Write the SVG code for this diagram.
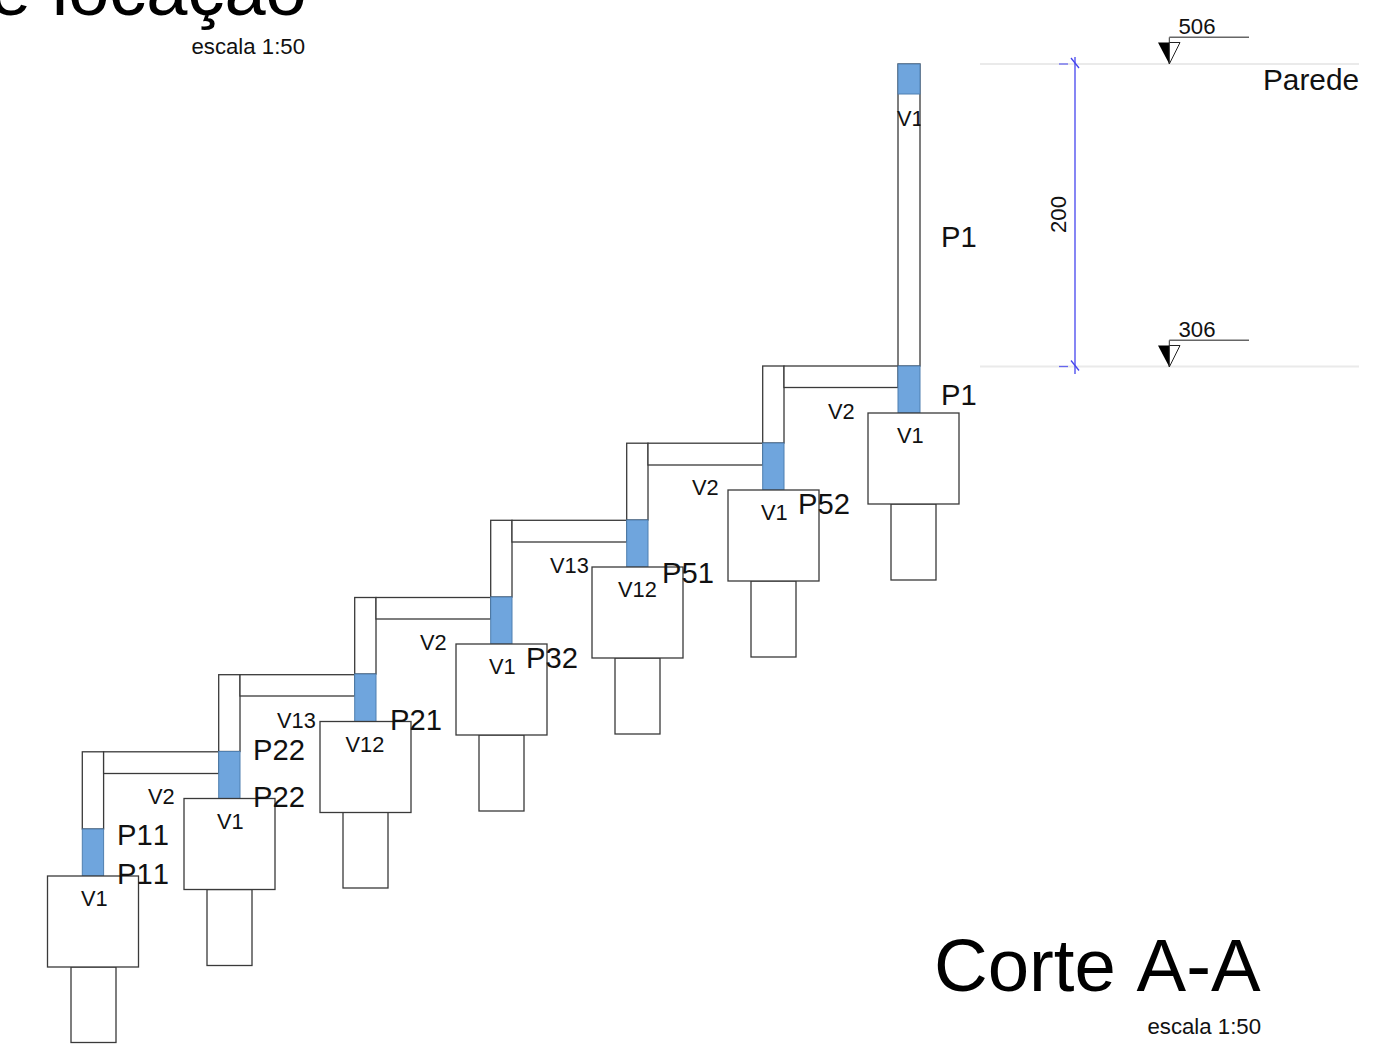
<svg xmlns="http://www.w3.org/2000/svg" width="1400" height="1058" viewBox="0 0 1400 1058">
<style>
text{font-family:"Liberation Sans",Arial,sans-serif;fill:#111;font-kerning:none}
.s{fill:#fff;stroke:#3a3a3a;stroke-width:1.3}
.c{fill:#6fa5dd;stroke:#4f7fb0;stroke-width:1}
.p{font-size:29.200px}
.v{font-size:21.800px}
.e{font-size:22.200px}
.t{font-size:74px;fill:#000}
.g{stroke:#eaeaea;stroke-width:2;fill:none}
.b{stroke:#4444ee;stroke-width:1.300;fill:none}
.lv{stroke:#666;stroke-width:1.500;fill:none}
</style>
<defs>
<clipPath id="colclip"><rect x="892" y="100" width="28.500" height="40"/></clipPath>
<g id="level">
<path d="M1169.300 64V37.300" fill="none" stroke="#333" stroke-width="1"/>
<path d="M1169.300 37.300H1249" class="lv"/>
<path d="M1158 42.500H1169.300V64Z" fill="#000"/>
<path d="M1169.300 42.500H1180L1169.300 64Z" fill="#fff" stroke="#222" stroke-width="1"/>
</g>
<g id="dimtick"><path d="M1059 0H1068" stroke="#6666ee" stroke-width="1.300"/><path d="M1071-6L1079 4" class="b"/></g>
</defs>
<g id="title"><text class="t" x="-10" y="15">e locação</text><text class="e" x="191.500" y="54">escala 1:50</text></g>
<g id="connectors">
<path class="g" d="M980 64H1359M980 366.500H1359"/>
<path class="b" d="M1075 57V374"/>
<use href="#dimtick" y="64"/><use href="#dimtick" y="366.500"/>
<use href="#level"/><use href="#level" y="303"/>
<rect class="s" x="762.700" y="366" width="21.300" height="77"/><rect class="s" x="784" y="366" width="114" height="21.500"/>
<rect class="s" x="626.700" y="443.200" width="21.300" height="76.800"/><rect class="s" x="648" y="443.200" width="114.700" height="21.800"/>
<rect class="s" x="490.700" y="520.300" width="21.300" height="76.700"/><rect class="s" x="512" y="520.300" width="114.700" height="21.700"/>
<rect class="s" x="354.700" y="597.500" width="21.300" height="76.500"/><rect class="s" x="376" y="597.500" width="114.700" height="21.500"/>
<rect class="s" x="218.700" y="674.700" width="21.300" height="76.800"/><rect class="s" x="240" y="674.700" width="114.700" height="21.300"/>
<rect class="s" x="82.300" y="751.800" width="21.300" height="77.200"/><rect class="s" x="103.600" y="751.800" width="115.100" height="21.700"/>
</g>
<g id="P1-column"><rect class="s" x="898" y="64" width="22" height="302"/><rect class="c" x="898" y="64" width="22" height="30"/><rect class="c" x="898" y="366" width="22" height="47"/></g>
<g id="bay1"><rect class="s" x="891" y="504" width="45" height="76"/><rect class="s" x="868" y="413" width="91" height="91"/></g>
<g id="bay2"><rect class="c" x="762.700" y="443" width="21.300" height="47"/><rect class="s" x="751" y="581" width="45" height="76"/><rect class="s" x="728" y="490" width="91" height="91"/></g>
<g id="bay3"><rect class="c" x="626.700" y="520" width="21.300" height="47"/><rect class="s" x="615" y="658" width="45" height="76"/><rect class="s" x="592" y="567" width="91" height="91"/></g>
<g id="bay4"><rect class="c" x="490.700" y="597" width="21.300" height="47"/><rect class="s" x="479" y="735" width="45" height="76"/><rect class="s" x="456" y="644" width="91" height="91"/></g>
<g id="bay5"><rect class="c" x="354.700" y="674" width="21.300" height="47.500"/><rect class="s" x="343" y="812" width="45" height="76"/><rect class="s" x="320" y="721.500" width="91" height="91"/></g>
<g id="bay6"><rect class="c" x="218.700" y="751.500" width="21.300" height="47"/><rect class="s" x="207" y="889.500" width="45" height="76"/><rect class="s" x="184" y="798.500" width="91" height="91"/></g>
<g id="bay7"><rect class="c" x="82.300" y="829" width="21.300" height="47"/><rect class="s" x="71" y="967" width="45" height="75.500"/><rect class="s" x="47.500" y="876" width="91" height="91"/></g>
<g id="labels">
<text class="v" x="897" y="126" clip-path="url(#colclip)">V1</text>
<text class="p" x="941" y="247">P1</text><text class="p" x="941" y="405">P1</text>
<text class="p" x="798" y="514">P52</text><text class="p" x="662" y="583">P51</text><text class="p" x="526" y="668">P32</text><text class="p" x="390" y="730">P21</text>
<text class="p" x="253" y="760">P22</text><text class="p" x="253" y="807">P22</text><text class="p" x="117" y="845">P11</text><text class="p" x="117" y="884">P11</text>
<text class="v" x="897" y="443">V1</text><text class="v" x="828" y="419">V2</text>
<text class="v" x="761" y="520">V1</text><text class="v" x="692" y="495">V2</text>
<text class="v" x="550" y="573">V13</text><text class="v" x="618" y="597">V12</text>
<text class="v" x="420" y="650">V2</text><text class="v" x="489" y="674">V1</text>
<text class="v" x="277" y="728">V13</text><text class="v" x="345.500" y="752">V12</text>
<text class="v" x="148" y="804">V2</text><text class="v" x="217" y="829">V1</text><text class="v" x="81" y="906">V1</text>
<text class="e" x="1178.500" y="34">506</text><text class="e" x="1178.500" y="337">306</text>
<text class="e" transform="translate(1066 233) rotate(-90)">200</text>
<text x="1263" y="90" style="font-size:29.800px">Parede</text>
</g>
<g id="footer"><text class="t" style="font-size:74.400px" x="934" y="991">Corte A-A</text><text class="e" x="1147.500" y="1034">escala 1:50</text></g>
</svg>
